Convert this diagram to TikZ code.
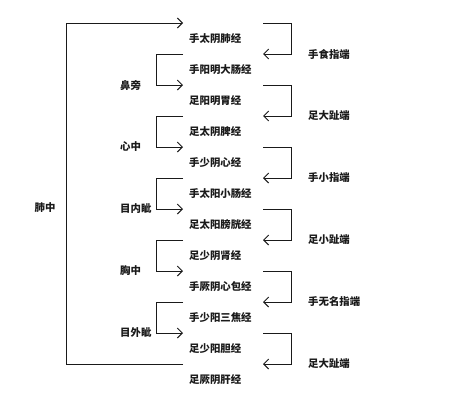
\documentclass[tikz,border=0pt]{standalone}
\usepackage{fontspec}
\setmainfont{Noto Sans CJK SC}
\usetikzlibrary{arrows.meta}
\usepackage{xcolor}
\definecolor{ink}{HTML}{1A1A1A}

\begin{document}
\begin{tikzpicture}[x=1pt, y=-1pt, font=\fontsize{10.4}{12}\selectfont\bfseries]
  \def\XL{183}                  % right end of every left bracket
  \def\XR{263}                  % left end of every right bracket
  \newcommand{\gy}[1]{23+#1*31}    % gap k -> y
  \newcommand{\ry}[1]{38.5+#1*31}  % meridian row i -> y
  % pin the page to the 452 x 394 frame of the reference
  \useasboundingbox (0,0) rectangle (452,394);
  \tikzset{
    meridian/.style={anchor=west, inner sep=0pt, text=ink},
    origin/.style={anchor=west, inner sep=0pt, text=ink},
    tipname/.style={anchor=west, inner sep=0pt, text=ink},
    flow/.style={draw=ink, line width=1pt, -{Straight Barb[length=5pt, width=10pt]}},
    bare/.style={draw=ink, line width=1pt}}

  % ========== the twelve meridians, one row each ==========================
  \node[meridian] (m1)  at (189,{\ry{0}})  {手太阴肺经};
  \node[meridian] (m2)  at (189,{\ry{1}})  {手阳明大肠经};
  \node[meridian] (m3)  at (189,{\ry{2}})  {足阳明胃经};
  \node[meridian] (m4)  at (189,{\ry{3}})  {足太阴脾经};
  \node[meridian] (m5)  at (189,{\ry{4}})  {手少阴心经};
  \node[meridian] (m6)  at (189,{\ry{5}})  {手太阳小肠经};
  \node[meridian] (m7)  at (189,{\ry{6}})  {足太阳膀胱经};
  \node[meridian] (m8)  at (189,{\ry{7}})  {足少阴肾经};
  \node[meridian] (m9)  at (189,{\ry{8}})  {手厥阴心包经};
  \node[meridian] (m10) at (189,{\ry{9}})  {手少阳三焦经};
  \node[meridian] (m11) at (189,{\ry{10}}) {足少阳胆经};
  \node[meridian] (m12) at (189,{\ry{11}}) {足厥阴肝经};

  % --- the gaps between rows: left ends and right starts ------------------
  \coordinate (L0)  at (\XL,{\gy{0}});   \coordinate (R0)  at (\XR,{\gy{0}});
  \coordinate (L1)  at (\XL,{\gy{1}});   \coordinate (R1)  at (\XR,{\gy{1}});
  \coordinate (L2)  at (\XL,{\gy{2}});   \coordinate (R2)  at (\XR,{\gy{2}});
  \coordinate (L3)  at (\XL,{\gy{3}});   \coordinate (R3)  at (\XR,{\gy{3}});
  \coordinate (L4)  at (\XL,{\gy{4}});   \coordinate (R4)  at (\XR,{\gy{4}});
  \coordinate (L5)  at (\XL,{\gy{5}});   \coordinate (R5)  at (\XR,{\gy{5}});
  \coordinate (L6)  at (\XL,{\gy{6}});   \coordinate (R6)  at (\XR,{\gy{6}});
  \coordinate (L7)  at (\XL,{\gy{7}});   \coordinate (R7)  at (\XR,{\gy{7}});
  \coordinate (L8)  at (\XL,{\gy{8}});   \coordinate (R8)  at (\XR,{\gy{8}});
  \coordinate (L9)  at (\XL,{\gy{9}});   \coordinate (R9)  at (\XR,{\gy{9}});
  \coordinate (L10) at (\XL,{\gy{10}});  \coordinate (R10) at (\XR,{\gy{10}});
  \coordinate (L11) at (\XL,{\gy{11}});  \coordinate (R11) at (\XR,{\gy{11}});

  % ========== LEFT: where each meridian starts ============================
  \node[text=ink, inner sep=0pt] (feizhong) at (45,208) {肺中};
  \draw[flow] (L11) -- ++(-117,0) |- (L0);

  \node[origin] (bipang)  at (120,{\gy{2}})  {鼻旁};
  \draw[flow] (L1) -- ++(-27,0) |- (L2);
  \node[origin] (xinzhong) at (120,{\gy{4}}) {心中};
  \draw[flow] (L3) -- ++(-27,0) |- (L4);
  \node[origin] (muneizi) at (120,{\gy{6}})  {目内眦};
  \draw[flow] (L5) -- ++(-27,0) |- (L6);
  \node[origin] (xiongzhong) at (120,{\gy{8}}) {胸中};
  \draw[flow] (L7) -- ++(-27,0) |- (L8);
  \node[origin] (muwaizi) at (120,{\gy{10}}) {目外眦};
  \draw[flow] (L9) -- ++(-27,0) |- (L10);

  % ========== RIGHT: where each meridian hands over =======================
  \draw[flow] (R0) -- ++(28,0) |- (R1);
  \node[tipname] (shizhi)   at (308,{\gy{1}})  {手食指端};
  \draw[flow] (R2) -- ++(28,0) |- (R3);
  \node[tipname] (dazhi)    at (308,{\gy{3}})  {足大趾端};
  \draw[flow] (R4) -- ++(28,0) |- (R5);
  \node[tipname] (xiaozhi)  at (308,{\gy{5}})  {手小指端};
  \draw[flow] (R6) -- ++(28,0) |- (R7);
  \node[tipname] (xiaozhi2) at (308,{\gy{7}})  {足小趾端};
  \draw[flow] (R8) -- ++(28,0) |- (R9);
  \node[tipname] (wuming)   at (308,{\gy{9}})  {手无名指端};
  \draw[flow] (R10) -- ++(28,0) |- (R11);
  \node[tipname] (dazhi2)   at (308,{\gy{11}}) {足大趾端};
\end{tikzpicture}
\end{document}
